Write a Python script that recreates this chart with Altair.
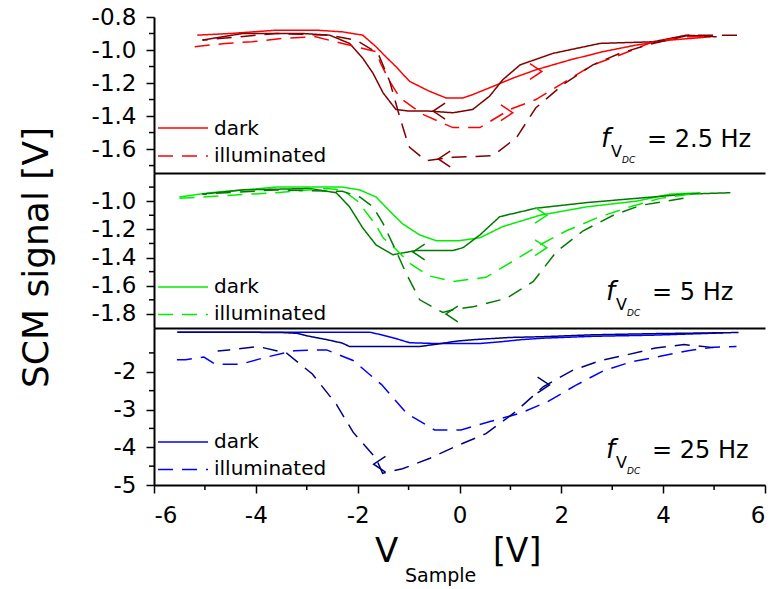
import altair as alt
import pandas as pd

FONT = "DejaVu Sans"

# Sweep frequencies of the DC sample bias, one panel each
FREQS = ["2.5", "5", "25"]
FREQ_TEXT = ["= 2.5 Hz", "= 5 Hz", "= 25 Hz"]
CONDITIONS = ["dark", "illuminated"]

# Line colours per panel: forward sweep (bright) and return sweep (deep)
BRIGHT = ["#ff0000", "#00ee00", "#0000ff"]
DEEP = ["#800000", "#007a00", "#000080"]

# ---- 2.5 Hz ----
F1_DARK_UP_X = [-5.15, -4.5, -3.6, -2.8, -2.3, -1.9, -1.64, -1.45, -1.25, -0.98, -0.59, -0.27, 0.07, 0.26, 0.66, 1.05, 1.5, 2.17, 2.82, 3.47, 4.14, 4.93]
F1_DARK_UP_Y = [-0.91, -0.90, -0.88, -0.88, -0.89, -0.91, -0.98, -1.04, -1.10, -1.19, -1.25, -1.29, -1.29, -1.27, -1.22, -1.17, -1.12, -1.06, -1.01, -0.97, -0.94, -0.92]
F1_DARK_DN_X = [5.05, 4.46, 3.8, 2.76, 1.84, 1.19, 0.85, 0.59, 0.26, -0.13, -0.6, -1.0, -1.25, -1.5, -1.7, -1.9, -2.16, -2.55, -3.08, -4.26, -5.05]
F1_DARK_DN_Y = [-0.92, -0.91, -0.95, -0.96, -1.02, -1.09, -1.18, -1.28, -1.36, -1.38, -1.37, -1.37, -1.36, -1.26, -1.14, -1.05, -0.96, -0.91, -0.90, -0.90, -0.94]
F1_ILL_UP_X = [-5.2, -4.6, -4.07, -3.47, -2.83, -2.3, -1.64, -1.55, -1.37, -1.17, -0.72, -0.13, 0.4, 0.99, 1.5, 2.03, 2.62, 3.15, 3.8, 4.46, 4.86]
F1_ILL_UP_Y = [-0.98, -0.96, -0.95, -0.93, -0.92, -0.96, -1.01, -1.08, -1.19, -1.29, -1.39, -1.47, -1.47, -1.36, -1.30, -1.20, -1.09, -1.03, -0.95, -0.92, -0.92]
F1_ILL_DN_X = [5.45, 4.5, 3.8, 3.15, 2.62, 2.03, 1.5, 1.12, 0.66, -0.13, -0.66, -0.98, -1.05, -1.17, -1.37, -1.6, -2.03, -2.55, -3.6, -5.05]
F1_ILL_DN_Y = [-0.91, -0.91, -0.96, -1.02, -1.09, -1.21, -1.35, -1.53, -1.64, -1.65, -1.67, -1.59, -1.53, -1.41, -1.19, -1.02, -0.94, -0.91, -0.90, -0.94]

# ---- 5 Hz ----
F2_DARK_UP_X = [-5.5, -4.9, -3.6, -2.3, -1.96, -1.64, -1.37, -1.12, -0.78, -0.46, 0.0, 0.4, 0.85, 1.58, 2.5, 3.47, 4.14, 4.73]
F2_DARK_UP_Y = [-0.97, -0.94, -0.90, -0.90, -0.92, -0.97, -1.07, -1.16, -1.24, -1.28, -1.28, -1.26, -1.18, -1.10, -1.04, -1.00, -0.95, -0.94]
F2_DARK_DN_X = [5.32, 4.46, 3.47, 2.5, 1.5, 0.79, 0.4, 0.07, -0.13, -0.85, -1.31, -1.64, -1.9, -2.16, -2.42, -2.95, -4.26, -5.05]
F2_DARK_DN_Y = [-0.94, -0.95, -0.98, -1.01, -1.05, -1.11, -1.24, -1.33, -1.35, -1.35, -1.38, -1.31, -1.19, -1.04, -0.94, -0.91, -0.92, -0.95]
F2_ILL_UP_X = [-5.5, -4.6, -3.6, -2.62, -2.3, -2.0, -1.64, -1.5, -1.25, -0.98, -0.6, -0.13, 0.52, 1.12, 1.58, 2.1, 2.76, 3.35, 3.94, 4.73]
F2_ILL_UP_Y = [-0.98, -0.96, -0.94, -0.91, -0.92, -1.00, -1.17, -1.26, -1.34, -1.44, -1.53, -1.57, -1.54, -1.41, -1.31, -1.21, -1.11, -1.04, -0.98, -0.94]
F2_ILL_DN_X = [4.4, 3.55, 3.02, 2.43, 1.9, 1.45, 0.92, 0.26, -0.13, -0.33, -0.78, -1.05, -1.25, -1.5, -1.7, -1.96, -2.3, -3.6, -5.05]
F2_ILL_DN_Y = [-0.98, -1.03, -1.10, -1.21, -1.36, -1.57, -1.69, -1.75, -1.77, -1.79, -1.70, -1.51, -1.35, -1.16, -1.04, -0.97, -0.93, -0.92, -0.95]

# ---- 25 Hz ----
F3_DARK_UP_X = [-5.54, -4.0, -2.5, -1.77, -1.5, -1.2, -0.98, -0.5, 0.07, 0.4, 0.85, 1.2, 1.64, 2.62, 3.8, 5.18]
F3_DARK_UP_Y = [-0.95, -0.95, -0.95, -0.95, -1.03, -1.14, -1.23, -1.25, -1.25, -1.25, -1.20, -1.15, -1.11, -1.06, -1.03, -0.97]
F3_DARK_DN_X = [5.48, 3.8, 2.62, 1.64, 1.0, 0.26, -0.07, -0.4, -0.78, -1.5, -2.16, -2.3, -2.6, -2.95, -3.2, -3.5, -4.5, -5.54]
F3_DARK_DN_Y = [-0.96, -0.99, -1.02, -1.07, -1.09, -1.15, -1.19, -1.26, -1.33, -1.33, -1.33, -1.24, -1.15, -1.06, -0.98, -0.96, -0.95, -0.95]
F3_ILL_UP_X = [-5.55, -5.38, -5.02, -4.8, -4.3, -3.79, -3.24, -2.61, -2.09, -1.53, -1.04, -0.49, 0.03, 0.6, 1.19, 1.72, 2.28, 2.83, 3.39, 3.94, 4.49, 4.99, 5.44]
F3_ILL_UP_Y = [-1.68, -1.68, -1.61, -1.80, -1.80, -1.61, -1.44, -1.42, -1.70, -2.34, -3.10, -3.54, -3.54, -3.32, -3.10, -2.80, -2.36, -1.97, -1.73, -1.59, -1.44, -1.35, -1.33]
F3_ILL_DN_X = [4.99, 4.41, 3.85, 3.29, 2.77, 2.21, 1.65, 1.09, 0.52, -0.03, -0.58, -1.12, -1.51, -1.64, -2.09, -2.42, -2.89, -3.40, -3.96, -4.53, -4.75]
F3_ILL_DN_Y = [-1.36, -1.28, -1.37, -1.55, -1.70, -1.97, -2.39, -3.07, -3.64, -3.95, -4.29, -4.57, -4.69, -4.29, -3.60, -2.86, -2.06, -1.50, -1.33, -1.42, -1.45]

# Sweep-direction arrows on the curves
ARROW_PANEL = ["2.5", "2.5", "2.5", "2.5", "5", "5", "5", "5", "25", "25"]
ARROW_SWEEP = ["up", "up", "down", "down", "up", "up", "down", "down", "down", "down"]
ARROW_DIR = [">", ">", "<", "<", ">", ">", "<", "<", ">", "<"]
ARROW_X = [1.5, 0.93, -0.4, -0.3, 1.6, 1.6, -0.8, -0.15, 1.65, -1.57]
ARROW_Y = [-1.13, -1.38, -1.37, -1.66, -1.10, -1.33, -1.36, -1.80, -2.35, -4.45]

# Axis ticks
X_MAJOR = [-6, -4, -2, 0, 2, 4, 6]
X_MINOR = [-5, -3, -1, 1, 3, 5]
Y_DOMAIN = [[-1.745, -0.8], [-1.9, -0.8], [-5.0, -0.84]]
Y_MAJOR = [[-0.8, -1.0, -1.2, -1.4, -1.6], [-1.0, -1.2, -1.4, -1.6, -1.8], [-2, -3, -4, -5]]
Y_MINOR = [[-0.9, -1.1, -1.3, -1.5, -1.7], [-0.9, -1.1, -1.3, -1.5, -1.7], [-1.5, -2.5, -3.5, -4.5]]
Y_FORMAT = [".1f", ".1f", "d"]

curves = [
    ("2.5", "dark", "up", F1_DARK_UP_X, F1_DARK_UP_Y),
    ("2.5", "dark", "down", F1_DARK_DN_X, F1_DARK_DN_Y),
    ("2.5", "illuminated", "up", F1_ILL_UP_X, F1_ILL_UP_Y),
    ("2.5", "illuminated", "down", F1_ILL_DN_X, F1_ILL_DN_Y),
    ("5", "dark", "up", F2_DARK_UP_X, F2_DARK_UP_Y),
    ("5", "dark", "down", F2_DARK_DN_X, F2_DARK_DN_Y),
    ("5", "illuminated", "up", F2_ILL_UP_X, F2_ILL_UP_Y),
    ("5", "illuminated", "down", F2_ILL_DN_X, F2_ILL_DN_Y),
    ("25", "dark", "up", F3_DARK_UP_X, F3_DARK_UP_Y),
    ("25", "dark", "down", F3_DARK_DN_X, F3_DARK_DN_Y),
    ("25", "illuminated", "up", F3_ILL_UP_X, F3_ILL_UP_Y),
    ("25", "illuminated", "down", F3_ILL_DN_X, F3_ILL_DN_Y),
]

rows = []
for freq, cond, sweep, xs, ys in curves:
    for i, (xv, yv) in enumerate(zip(xs, ys)):
        rows.append({"freq": freq, "cond": cond, "key": f"{freq}-{sweep}",
                     "series": f"{freq}-{cond}-{sweep}", "i": i, "x": xv, "y": yv})
df = pd.DataFrame(rows)

arrows = pd.DataFrame({"freq": ARROW_PANEL, "key": [f"{p}-{s}" for p, s in zip(ARROW_PANEL, ARROW_SWEEP)],
                       "dir": ARROW_DIR, "x": ARROW_X, "y": ARROW_Y})

color_domain = [f"{f}-{s}" for f in FREQS for s in ("up", "down")]
color_range = [c for pair in zip(BRIGHT, DEEP) for c in pair]
cscale = alt.Scale(domain=color_domain, range=color_range)
DASH = [15, 9]
dscale = alt.Scale(domain=CONDITIONS, range=[[1, 0], DASH])
xscale = alt.Scale(domain=[-6, 6], nice=False, zero=False)
shape_scale = alt.Scale(domain=["<", ">"], range=["M0.75,-1L-0.75,0L0.75,1", "M-0.75,-1L0.75,0L-0.75,1"])

MINUS_FIX = "replace(datum.label, '\u2212', '-')"
W = 611
HEIGHTS = [156, 155, 157]
ONE = alt.Data(values=[{}])


def text(t, x, y, size, italic=False):
    return alt.Chart(ONE).mark_text(
        text=t, font=FONT, fontSize=size, align="left", baseline="alphabetic",
        color="black", fontStyle="italic" if italic else "normal",
    ).encode(x=alt.value(x), y=alt.value(y))


def panel(k):
    freq = FREQS[k]
    h = HEIGHTS[k]
    bottom = k == 2
    yscale = alt.Scale(domain=Y_DOMAIN[k], nice=False, zero=False)

    if bottom:
        xaxis = alt.Axis(values=X_MAJOR, format="d", labelExpr=MINUS_FIX, tickSize=8, tickWidth=1.5,
                         domainWidth=2, labelFontSize=23, labelPadding=11, title=None, grid=False)
    else:
        xaxis = alt.Axis(ticks=False, labels=False, domainWidth=2, title=None, grid=False)

    ykw = dict(values=Y_MAJOR[k], format=Y_FORMAT[k], labelExpr=MINUS_FIX, tickSize=8, tickWidth=1.5,
               domainWidth=2, labelFontSize=23, labelPadding=10, grid=False, minExtent=63, maxExtent=63)
    if k == 1:
        ykw.update(title="SCM signal [V]", titleFontSize=36, titleFontWeight="normal",
                   titleFont=FONT, titlePadding=36, titleColor="black", titleY=84)
    else:
        ykw.update(title=None)
    yaxis = alt.Axis(**ykw)

    X = alt.X("x:Q", scale=xscale, axis=xaxis)
    Y = alt.Y("y:Q", scale=yscale, axis=yaxis)

    lines = alt.Chart(df[df.freq == freq]).mark_line(strokeWidth=1.5).encode(
        x=X, y=Y,
        color=alt.Color("key:N", scale=cscale, legend=None),
        strokeDash=alt.StrokeDash("cond:N", scale=dscale, legend=None),
        detail="series:N",
        order="i:Q",
    )

    heads = alt.Chart(arrows[arrows.freq == freq]).mark_point(filled=False, strokeWidth=1.5, size=250, opacity=1).encode(
        x=X, y=Y,
        color=alt.Color("key:N", scale=cscale, legend=None),
        shape=alt.Shape("dir:N", scale=shape_scale, legend=None),
    )

    minor_y = alt.Chart(pd.DataFrame({"y": Y_MINOR[k]})).mark_rule(color="black", strokeWidth=1.5).encode(
        y=Y, x=alt.value(-5), x2=alt.value(0)
    )

    layers = [lines, heads, minor_y]

    if bottom:
        minor_x = alt.Chart(pd.DataFrame({"x": X_MINOR})).mark_rule(color="black", strokeWidth=1.5).encode(
            x=X, y=alt.value(h), y2=alt.value(h + 5)
        )
        layers.append(minor_x)
        # x-axis title with subscript
        layers += [text("V", 221, 234, 34), text("Sample", 251, 254, 19), text("[V]", 339, 234, 33)]

    # in-panel legend
    ly_dark, ly_ill = (111, 139) if k == 0 else (114, 141.5)
    ty_dark, ty_ill = (118, 145) if k == 0 else (120, 147)
    layers += [
        alt.Chart(ONE).mark_rule(color=BRIGHT[k], strokeWidth=1.5).encode(
            x=alt.value(4), x2=alt.value(54), y=alt.value(ly_dark)),
        alt.Chart(ONE).mark_rule(color=BRIGHT[k], strokeWidth=1.5, strokeDash=DASH).encode(
            x=alt.value(4), x2=alt.value(54), y=alt.value(ly_ill)),
        text(CONDITIONS[0], 60, ty_dark, 20),
        text(CONDITIONS[1], 60, ty_ill, 20),
    ]

    # frequency label f_{V_DC}
    fx = 447 if k == 0 else 452
    by = [130, 127, 130][k]
    layers += [
        text("f", fx, by, 26, italic=True),
        text("V", fx + 10, by + 10, 16),
        text("DC", fx + 21, by + 16, 9, italic=True),
        text(FREQ_TEXT[k], fx + 46, by, 24),
    ]

    return alt.layer(*layers).properties(width=W, height=h)


chart = alt.vconcat(panel(0), panel(1), panel(2), spacing=0, bounds="flush").configure_view(
    stroke=None
).configure_axis(
    labelFont=FONT, labelColor="black", domainColor="black", tickColor="black"
).properties(
    padding={"left": 18, "top": 6, "right": 3, "bottom": 0}, background="white"
)

chart.save("out.html", embed_options={"renderer": "svg", "actions": False})
